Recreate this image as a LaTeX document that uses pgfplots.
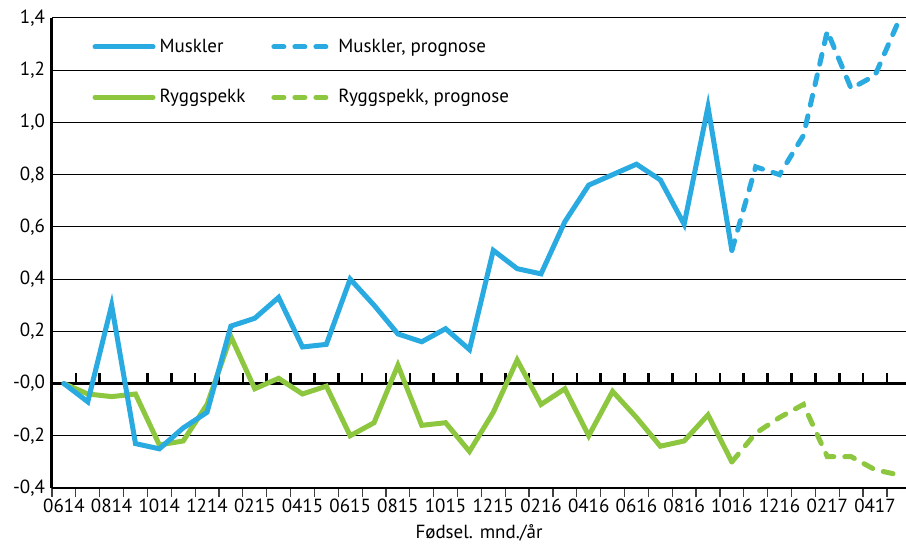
\documentclass[border=0pt]{standalone}
\usepackage{fontspec}
\setmainfont{PT Sans}
\usepackage{pgfplots}
\usepackage{pgfplotstable}
\pgfplotsset{compat=1.18}
\usetikzlibrary{calc}
\definecolor{muskblue}{RGB}{41,171,226}
\definecolor{ryggreen}{RGB}{141,198,63}

% i = month index, 0 = 06/14 ... 35 = 05/17
\pgfplotstableread{
i val
0 0.00
1 -0.07
2 0.30
3 -0.23
4 -0.25
5 -0.17
6 -0.11
7 0.22
8 0.25
9 0.33
10 0.14
11 0.15
12 0.40
13 0.30
14 0.19
15 0.16
16 0.21
17 0.13
18 0.51
19 0.44
20 0.42
21 0.62
22 0.76
23 0.80
24 0.84
25 0.78
26 0.61
27 1.06
28 0.51
}\muskler
\pgfplotstableread{
i val
28 0.51
29 0.83
30 0.80
31 0.95
32 1.35
33 1.13
34 1.18
35 1.39
}\musklerprog
\pgfplotstableread{
i val
0 0.00
1 -0.04
2 -0.05
3 -0.04
4 -0.235
5 -0.22
6 -0.08
7 0.18
8 -0.02
9 0.02
10 -0.04
11 -0.01
12 -0.20
13 -0.15
14 0.07
15 -0.16
16 -0.15
17 -0.26
18 -0.11
19 0.09
20 -0.08
21 -0.02
22 -0.20
23 -0.03
24 -0.13
25 -0.24
26 -0.22
27 -0.12
28 -0.30
}\rygg
\pgfplotstableread{
i val
28 -0.30
29 -0.19
30 -0.13
31 -0.08
32 -0.28
33 -0.28
34 -0.33
35 -0.35
}\ryggprog

\begin{document}
\begin{tikzpicture}
\begin{axis}[
  scale only axis,
  width=427pt, height=235pt,
  xmin=-0.5, xmax=35.3,
  ymin=-0.4, ymax=1.4,
  axis x line*=bottom,
  axis y line*=left,
  x axis line style={line width=0.8pt},
  y axis line style={line width=1.5pt},
  ytick={-0.4,-0.2,0,0.2,0.4,0.6,0.8,1.0,1.2,1.4},
  yticklabels={-0{,}4,-0{,}2,-0{,}0,0{,}2,0{,}4,0{,}6,0{,}8,1{,}0,1{,}2,1{,}4},
  ytick style={draw=none},
  ymajorgrids,
  grid style={black, line width=0.5pt},
  xtick={0,2,...,34},
  xticklabels={0614,0814,1014,1214,0215,0415,0615,0815,1015,1215,0216,0416,0616,0816,1016,1216,0217,0417},
  minor xtick={-0.5,0.5,...,35.5},
  tick align=outside,
  major tick length=0pt,
  minor tick length=4.5pt,
  minor x tick style={black!75, line width=0.6pt},
  tick label style={font=\fontsize{9.5}{11}\selectfont},
  xticklabel style={yshift=-2pt},
  xlabel={Fødsel. mnd./år},
  xlabel style={font=\fontsize{9.5}{11}\selectfont, yshift=0.8pt},
  legend columns=2,
  legend cell align=left,
  legend style={at={(axis description cs:0.047,0.965)}, anchor=north west,
    draw=none, fill=none, inner sep=0pt, row sep=13pt,
    font=\fontsize{9.5}{11}\selectfont,
    /tikz/every even column/.append style={column sep=11pt}},
  legend image code/.code={\draw[#1] (0pt,0pt) -- (29pt,0pt);},
]
\addlegendimage{muskblue, line width=2.5pt, line cap=round}
\addlegendentry{Muskler}
\addlegendimage{muskblue, line width=2.5pt, line cap=round, dash pattern=on 5pt off 5.5pt}
\addlegendentry{Muskler, prognose}
\addlegendimage{ryggreen, line width=2.5pt, line cap=round}
\addlegendentry{Ryggspekk}
\addlegendimage{ryggreen, line width=2.5pt, line cap=round, dash pattern=on 5pt off 5.5pt}
\addlegendentry{Ryggspekk, prognose}

% zero line with upward ticks
\addplot[black, line width=1.5pt, forget plot] coordinates {(-0.5,0) (35.5,0)};
\addplot[ycomb, black, line width=1.3pt, forget plot] coordinates {
  (0.5,0.042) (1.5,0.042) (2.5,0.042) (3.5,0.042) (4.5,0.042) (5.5,0.042)
  (6.5,0.042) (7.5,0.042) (8.5,0.042) (9.5,0.042) (10.5,0.042) (11.5,0.042)
  (12.5,0.042) (13.5,0.042) (14.5,0.042) (15.5,0.042) (16.5,0.042) (17.5,0.042)
  (18.5,0.042) (19.5,0.042) (20.5,0.042) (21.5,0.042) (22.5,0.042) (23.5,0.042)
  (24.5,0.042) (25.5,0.042) (26.5,0.042) (27.5,0.042) (28.5,0.042) (29.5,0.042)
  (30.5,0.042) (31.5,0.042) (32.5,0.042) (33.5,0.042) (34.5,0.042)
};

\addplot[ryggreen, line width=2.5pt, line cap=round, forget plot] table[x=i, y=val] {\rygg};
\addplot[ryggreen, line width=2.5pt, line cap=round, dash pattern=on 5pt off 5.5pt, forget plot] table[x=i, y=val] {\ryggprog};
\addplot[muskblue, line width=2.5pt, line cap=round, forget plot] table[x=i, y=val] {\muskler};
\addplot[muskblue, line width=2.5pt, line cap=round, dash pattern=on 5pt off 5.5pt, forget plot] table[x=i, y=val] {\musklerprog};
\end{axis}
\pgfresetboundingbox
\path ($(current axis.south west)+(-26pt,-28pt)$) rectangle ($(current axis.north east)+(0pt,9pt)$);
\end{tikzpicture}
\end{document}
